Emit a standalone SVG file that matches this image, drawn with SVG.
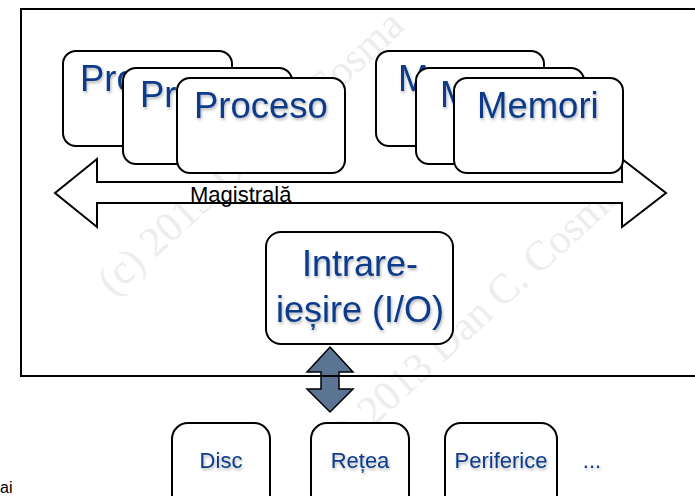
<svg xmlns="http://www.w3.org/2000/svg" width="695" height="496" viewBox="0 0 695 496">
  <defs>
    <filter id="sh" x="-10%" y="-20%" width="130%" height="150%">
      <feDropShadow dx="1" dy="2" stdDeviation="1.6" flood-color="#000" flood-opacity="0.3"/>
    </filter>
  </defs>
  <style>
    .box { fill: #fff; stroke: #000; stroke-width: 2; }
    .big { font-family: "Liberation Sans", Arial, sans-serif; font-size: 36.5px; fill: #0a3a8a; filter: url(#sh); }
    .io { font-family: "Liberation Sans", Arial, sans-serif; font-size: 36px; fill: #0a3a8a; text-anchor: middle; filter: url(#sh); }
    .small { font-family: "Liberation Sans", Arial, sans-serif; font-size: 22px; fill: #0a3a8a; text-anchor: middle; filter: url(#sh); }
    .wm { font-family: "Liberation Serif", "Times New Roman", serif; font-size: 42px; fill: #ededed; }
    .lbl { font-family: "Liberation Sans", Arial, sans-serif; font-size: 22px; fill: #000; }
  </style>
  <rect width="695" height="496" fill="#fff"/>
  <g id="watermark">
    <text class="wm" transform="translate(113,297) rotate(-42.5)">(c) 2013 Dan C. Cosma</text>
    <text class="wm" transform="translate(331,466) rotate(-42.5)">(c) 2013 Dan C. Cosma</text>
  </g>
  <g id="connectors">
    <polygon id="io-arrow" points="330,347 353,372 339,372 339,389 353,389 330,412 307,389 321,389 321,372 307,372" fill="#5b7493" stroke="#000" stroke-width="1.5"/>
  </g>
  <g id="frame">
    <rect x="21" y="9" width="690" height="367" fill="none" stroke="#000" stroke-width="2"/>
  </g>
  <g id="bus">
    <polygon points="55,193 97,159 97,182 622,182 622,159 666,193 622,227 622,203 97,203 97,227" fill="#fff" stroke="#000" stroke-width="2"/>
  </g>
  <g id="proc1">
    <rect class="box" x="63" y="51" width="169" height="95" rx="13"/>
    <text class="big" x="80" y="91">Pro</text>
  </g>
  <g id="proc2">
    <rect class="box" x="123" y="68" width="169" height="96" rx="13"/>
    <text class="big" x="140" y="107">Pr</text>
  </g>
  <g id="proc3">
    <rect class="box" x="177" y="78" width="168" height="95" rx="13"/>
    <text class="big" x="194" y="118">Proceso</text>
  </g>
  <g id="mem1">
    <rect class="box" x="376" y="51" width="168" height="95" rx="13"/>
    <text class="big" x="398" y="91">M</text>
  </g>
  <g id="mem2">
    <rect class="box" x="416" y="68" width="168" height="96" rx="13"/>
    <text class="big" x="440" y="107">M</text>
  </g>
  <g id="mem3">
    <rect class="box" x="454" y="78" width="169" height="95" rx="13"/>
    <text class="big" x="477" y="118">Memori</text>
  </g>
  <g id="bus-label">
    <text class="lbl" x="190" y="202">Magistrală</text>
  </g>
  <g id="io">
    <rect class="box" x="266" y="232" width="187" height="112" rx="15"/>
    <text class="io" x="360" y="276">Intrare-</text>
    <text class="io" x="360" y="322">ieșire (I/O)</text>
  </g>
  <g id="disc">
    <rect class="box" x="172" y="423" width="98" height="100" rx="16"/>
    <text class="small" x="221" y="468">Disc</text>
  </g>
  <g id="retea">
    <rect class="box" x="311" y="423" width="98" height="100" rx="16"/>
    <text class="small" x="360" y="468">Rețea</text>
  </g>
  <g id="periferice">
    <rect class="box" x="445" y="423" width="112" height="100" rx="16"/>
    <text class="small" x="501" y="468">Periferice</text>
  </g>
  <g id="more">
    <text class="small" x="592" y="468">...</text>
  </g>
  <text class="lbl" x="0" y="493" style="font-size:16px">ai</text>
</svg>
